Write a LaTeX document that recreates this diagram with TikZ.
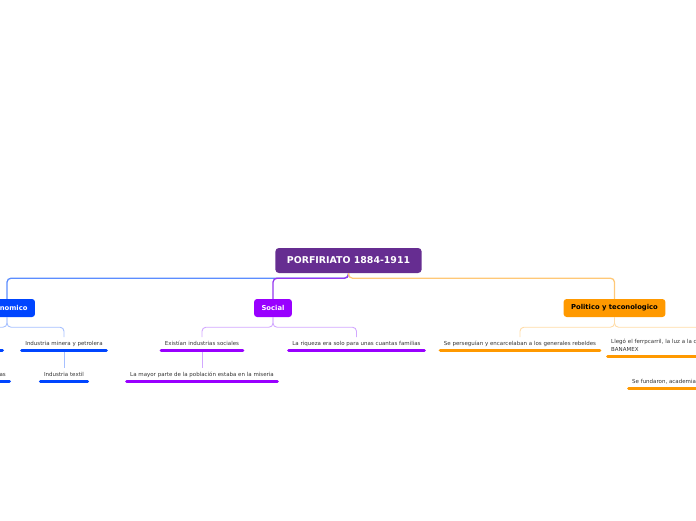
\documentclass[tikz,border=0pt]{standalone}
\usepackage{fontspec}
\setmainfont{DejaVu Sans}
\usepackage{xcolor}
\usetikzlibrary{positioning, calc}

\definecolor{rootpurple}{HTML}{662D91}
\definecolor{econblue}{HTML}{0045FF}
\definecolor{econline}{HTML}{5C8DFF}
\definecolor{econsub}{HTML}{A6C0FF}
\definecolor{socviolet}{HTML}{9900FF}
\definecolor{socline}{HTML}{9536F0}
\definecolor{socsub}{HTML}{D2A8FF}
\definecolor{polorange}{HTML}{FF9900}
\definecolor{polline}{HTML}{FFC877}
\definecolor{polsub}{HTML}{FFDCA8}
\definecolor{leaftext}{HTML}{333333}

\begin{document}
\begin{tikzpicture}[
    x=1pt, y=-1pt,
    every node/.style={inner sep=0pt},
    root/.style={fill=rootpurple, text=white, rounded corners=3.5pt, font=\bfseries\fontsize{9.4}{11}\selectfont, minimum height=25pt, inner xsep=11.5pt},
    branch/.style={fill=#1, rounded corners=3pt, font=\bfseries\fontsize{6.8}{8}\selectfont, minimum height=18pt, inner xsep=7.5pt},
    leaf/.style={font=\fontsize{5.5}{7.5}\selectfont, text=leaftext, inner xsep=3.5pt, inner ysep=3.5pt, text height=4.2pt, text depth=1.3pt},
    leafwide/.style={font=\fontsize{5.5}{7.5}\selectfont, text=leaftext, inner xsep=3.5pt, inner ysep=4.8pt, align=left, text width=200pt},
    link/.style={line width=1.3pt, draw=#1, rounded corners=4pt},
    sublink/.style={line width=0.9pt, draw=#1, rounded corners=4pt},
    bar/.style={line width=3pt, line cap=round, draw=#1}
  ]
  \useasboundingbox (0,0) rectangle (696,520);
  \clip (0,0) rectangle (696,520);

  % Root and main branches
  \node[root] (porf) at (348.5,260.5) {PORFIRIATO 1884-1911};
  \node[branch=econblue, text=white] (econ) at (7,308) {Economico};
  \node[branch=socviolet, text=white] (social) at (273,308) {Social};
  \node[branch=polorange, text=black] (polit) at (614.5,308) {Politico y teconologico};

  % Economico leaves
  \node[leaf, anchor=south east] (agro) at (2.5,350) {Agricultura};
  \node[leaf, anchor=south] (miner) at (64,350) {Industria minera y petrolera};
  \node[leaf, anchor=south east] (hacienda) at (9.5,381) {Haciendas};
  \node[leaf, anchor=south] (textil) at (64,381) {Industria textil};

  % Social leaves
  \node[leaf, anchor=south] (clases) at (202,350) {Existían industrias sociales};
  \node[leaf, anchor=south] (riqueza) at (356.5,350) {La riqueza era solo para unas cuantas familias};
  \node[leaf, anchor=south] (miseria) at (202,381) {La mayor parte de la población estaba en la miseria};

  % Politico leaves
  \node[leaf, anchor=south] (rebeldes) at (520,350) {Se perseguían y encarcelaban a los generales rebeldes};
  \node[leafwide, anchor=south west] (ferro) at (607.5,356) {Llegó el ferrpcarril, la luz a la ciudad y se fundó el\\BANAMEX};
  \node[leaf, anchor=south west] (academia) at (628.5,388) {Se fundaron, academias y escuelas};

  % Connectors
  \draw[link=econline] (porf.south) -- ++(0,5) -| (econ.north);
  \draw[link=socline] (porf.south) -- ++(0,5) -| (social.north);
  \draw[link=polline] (porf.south) -- ++(0,5) -| (polit.north);

  \draw[sublink=econsub] (econ.south) -- ++(0,10) -| (agro.north);
  \draw[sublink=econsub] (econ.south) -- ++(0,10) -| (miner.north);
  \draw[sublink=econsub] (agro.south) -- (agro.south |- hacienda.north);
  \draw[sublink=econsub] (miner.south) -- (textil.north);

  \draw[sublink=socsub] (social.south) -- ++(0,10) -| (clases.north);
  \draw[sublink=socsub] (social.south) -- ++(0,10) -| (riqueza.north);
  \draw[sublink=socsub] (clases.south) -- (miseria.north);

  \draw[sublink=polsub] (polit.south) -- ++(0,10) -| (rebeldes.north);
  \draw[sublink=polsub] (polit.south) -- ++(0,10) -| (ferro.north);
  \draw[sublink=polsub] (ferro.south) -- (ferro.south |- academia.north);

  % Underlines
  \foreach \n/\c in {agro/econblue, miner/econblue, hacienda/econblue, textil/econblue,
      clases/socviolet, riqueza/socviolet, miseria/socviolet,
      rebeldes/polorange, ferro/polorange, academia/polorange}
    \draw[bar=\c] (\n.south west) -- (\n.south east);

\end{tikzpicture}
\end{document}
